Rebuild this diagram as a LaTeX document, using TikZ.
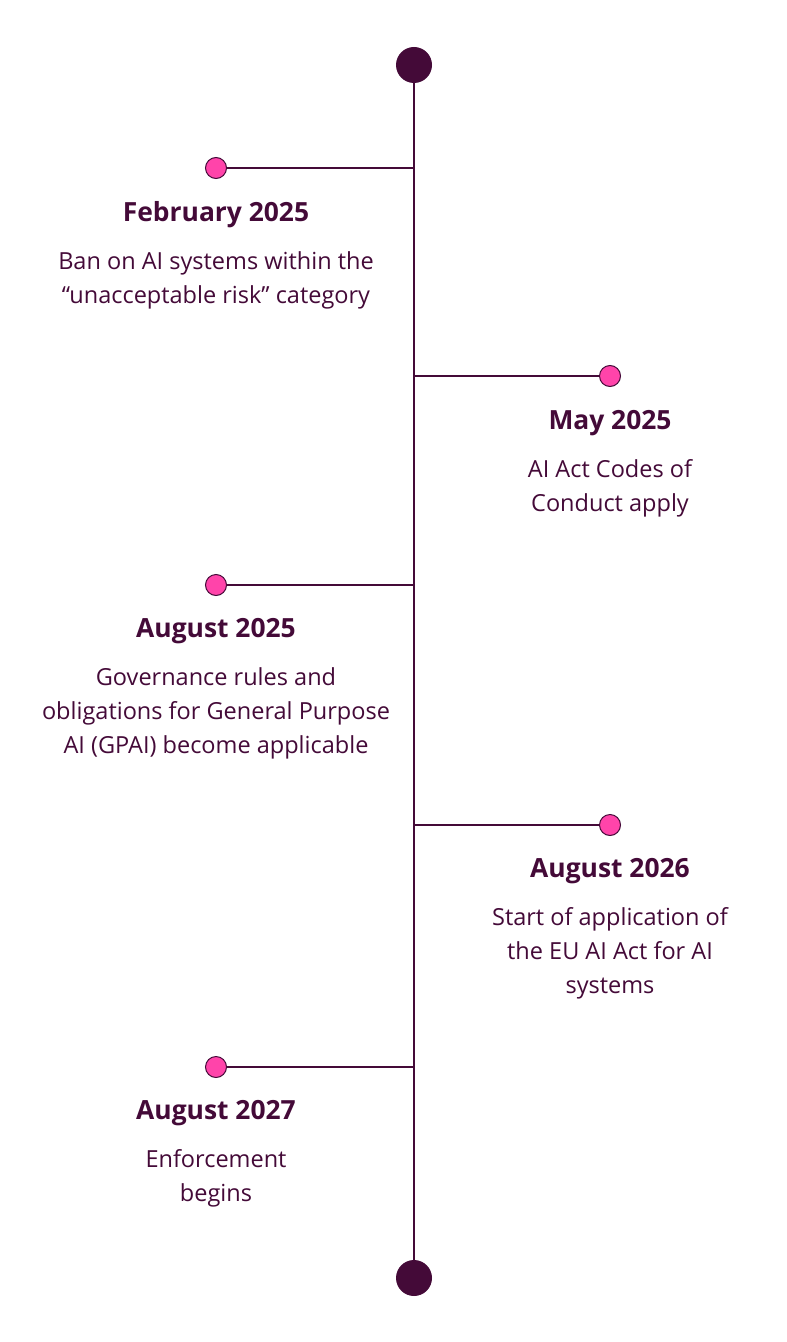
\documentclass[tikz,border=0pt]{standalone}
\usepackage{fontspec}
\setmainfont{Open Sans}
\definecolor{plum}{HTML}{440A38}
\definecolor{pinkdot}{HTML}{FF44AA}
\begin{document}
\begin{tikzpicture}[x=1bp,y=-1bp,
  bigdot/.style={circle,fill=plum,minimum size=36bp,inner sep=0pt},
  smalldot/.style={circle,fill=pinkdot,draw=plum,line width=1bp,minimum size=21bp,inner sep=0pt},
  axis/.style={draw=plum,line width=1.5bp},
  title/.style={text=plum,font=\fontsize{26.5}{28}\selectfont\bfseries,anchor=center},
  body/.style={text=plum,font=\fontsize{23.6}{34}\selectfont,align=center,anchor=north}]
\useasboundingbox (0,0) rectangle (786,1342);
\node[bigdot] (top) at (414,65) {};
\node[bigdot] (bot) at (414,1278) {};
\draw[axis] (top) -- (bot);
% events
\coordinate (j1) at (414,168);
\coordinate (j2) at (414,376);
\coordinate (j3) at (414,585);
\coordinate (j4) at (414,825);
\coordinate (j5) at (414,1067);
\node[smalldot] (d1) at (216,168) {};
\node[smalldot] (d2) at (610,376) {};
\node[smalldot] (d3) at (216,585) {};
\node[smalldot] (d4) at (610,825) {};
\node[smalldot] (d5) at (216,1067) {};
\draw[axis] (d1) -- (j1);
\draw[axis] (d2) -- (j2);
\draw[axis] (d3) -- (j3);
\draw[axis] (d4) -- (j4);
\draw[axis] (d5) -- (j5);
\node[title] (t1) at (216,215) {February 2025};
\node[title] (t2) at (610,423) {May 2025};
\node[title] (t3) at (216,631) {August 2025};
\node[title] (t4) at (610,871) {August 2026};
\node[title] (t5) at (216,1113) {August 2027};
\node[body] (b1) at (216,248) {Ban on AI systems within the\\``unacceptable risk'' category};
\node[body] (b2) at (610,456) {AI Act Codes of\\Conduct apply};
\node[body] (b3) at (216,664) {Governance rules and\\obligations for General Purpose\\AI (GPAI) become applicable};
\node[body] (b4) at (610,904) {Start of application of\\the EU AI Act for AI\\systems};
\node[body] (b5) at (216,1146) {Enforcement\\begins};
\end{tikzpicture}
\end{document}
